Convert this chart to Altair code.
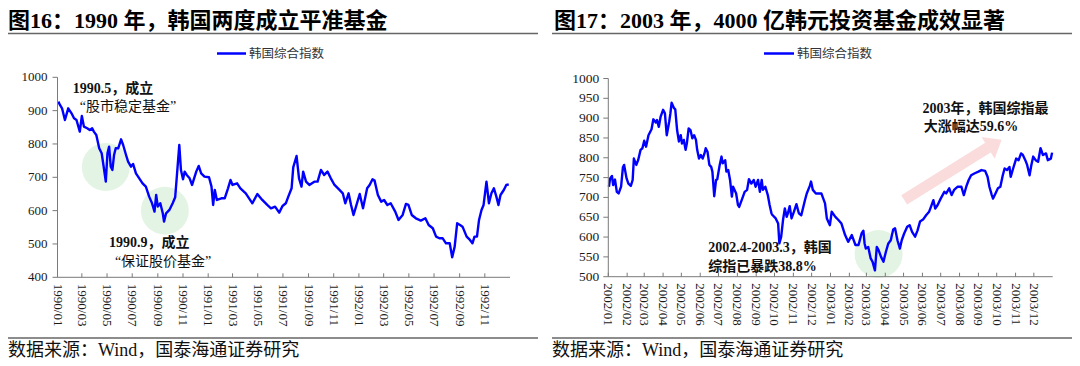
import altair as alt
import pandas as pd

FONT = "Liberation Serif, Noto Sans CJK SC"
BLUE = "#0000FF"
AXC = "#7a7a7a"
PINK = "#FBDCDC"
GREEN = "#E4F4E4"

# ---------------- data: left panel (1990-1992) ----------------
LEFT_DATES = [
    "1990-01-03", "1990-01-07", "1990-01-12", "1990-01-19", "1990-01-27", "1990-02-04", "1990-02-10", "1990-02-16",
    "1990-02-24", "1990-03-01", "1990-03-06", "1990-03-14", "1990-03-20", "1990-03-26", "1990-03-30", "1990-04-05",
    "1990-04-12", "1990-04-18", "1990-04-24", "1990-04-28", "1990-05-02", "1990-05-06", "1990-05-10", "1990-05-14",
    "1990-05-18", "1990-05-22", "1990-05-28", "1990-06-04", "1990-06-09", "1990-06-16", "1990-06-21", "1990-06-28",
    "1990-07-03", "1990-07-10", "1990-07-18", "1990-07-26", "1990-08-03", "1990-08-11", "1990-08-18", "1990-08-24",
    "1990-08-28", "1990-09-01", "1990-09-07", "1990-09-13", "1990-09-16", "1990-09-21", "1990-09-29", "1990-10-07",
    "1990-10-13", "1990-10-17", "1990-10-23", "1990-10-27", "1990-11-01", "1990-11-05", "1990-11-10", "1990-11-17",
    "1990-11-23", "1990-12-03", "1990-12-09", "1990-12-15", "1990-12-23", "1991-01-03", "1991-01-09", "1991-01-13",
    "1991-01-17", "1991-01-22", "1991-02-02", "1991-02-10", "1991-02-18", "1991-02-24", "1991-03-01", "1991-03-12",
    "1991-03-20", "1991-04-02", "1991-04-10", "1991-04-18", "1991-04-30", "1991-05-12", "1991-05-24", "1991-06-02",
    "1991-06-12", "1991-06-22", "1991-06-30", "1991-07-08", "1991-07-14", "1991-07-22", "1991-07-26", "1991-08-03",
    "1991-08-09", "1991-08-15", "1991-08-19", "1991-08-26", "1991-09-03", "1991-09-15", "1991-09-23", "1991-10-01",
    "1991-10-09", "1991-10-17", "1991-10-25", "1991-11-03", "1991-11-15", "1991-11-23", "1991-11-29", "1991-12-07",
    "1991-12-13", "1991-12-19", "1991-12-25", "1992-01-03", "1992-01-11", "1992-01-21", "1992-01-27", "1992-02-03",
    "1992-02-08", "1992-02-16", "1992-02-24", "1992-03-02", "1992-03-10", "1992-03-18", "1992-03-29", "1992-04-06",
    "1992-04-16", "1992-04-24", "1992-04-30", "1992-05-08", "1992-05-18", "1992-05-30", "1992-06-10", "1992-06-18",
    "1992-06-28", "1992-07-06", "1992-07-14", "1992-07-22", "1992-07-30", "1992-08-08", "1992-08-14", "1992-08-20",
    "1992-08-26", "1992-09-02", "1992-09-08", "1992-09-18", "1992-09-26", "1992-10-02", "1992-10-07", "1992-10-13",
    "1992-10-18", "1992-10-24", "1992-10-29", "1992-11-05", "1992-11-11", "1992-11-17", "1992-11-23", "1992-11-29",
    "1992-12-04", "1992-12-09", "1992-12-17", "1992-12-23", "1992-12-29",
]
LEFT_VALUES = [
    927, 917, 907, 872, 907, 892, 877, 872,
    837, 884, 852, 847, 842, 847, 837, 827,
    787, 772, 722, 687, 772, 792, 732, 722,
    767, 787, 787, 814, 797, 767, 747, 732,
    740, 712, 697, 682, 672, 642, 622, 597,
    647, 612, 622, 592, 567, 592, 602, 622,
    640, 702, 797, 722, 694, 717, 707, 697,
    677, 717, 734, 712, 702, 700, 672, 617,
    662, 632, 637, 637, 667, 692, 677, 682,
    667, 652, 637, 622, 650, 632, 617, 607,
    612, 594, 614, 622, 642, 667, 730, 764,
    697, 672, 717, 687, 677, 687, 687, 722,
    707, 717, 697, 677, 662, 652, 622, 652,
    617, 587, 612, 650, 607, 667, 677, 694,
    690, 647, 627, 632, 617, 622, 597, 572,
    587, 620, 617, 587, 577, 570, 577, 557,
    547, 522, 517, 517, 502, 502, 460, 492,
    562, 557, 552, 522, 512, 502, 522, 522,
    572, 602, 617, 687, 622, 652, 667, 642,
    617, 647, 662, 677, 679,
]

# ---------------- data: right panel (2002-2003) ----------------
RIGHT_DATES = [
    "2002-01-02", "2002-01-04", "2002-01-07", "2002-01-09", "2002-01-12", "2002-01-15", "2002-01-18", "2002-01-22",
    "2002-01-25", "2002-01-27", "2002-01-31", "2002-02-03", "2002-02-07", "2002-02-10", "2002-02-12", "2002-02-16",
    "2002-02-19", "2002-02-23", "2002-02-26", "2002-03-01", "2002-03-04", "2002-03-08", "2002-03-13", "2002-03-16",
    "2002-03-20", "2002-03-22", "2002-03-25", "2002-03-28", "2002-04-01", "2002-04-04", "2002-04-07", "2002-04-11",
    "2002-04-13", "2002-04-15", "2002-04-19", "2002-04-21", "2002-04-24", "2002-04-27", "2002-04-30", "2002-05-02",
    "2002-05-05", "2002-05-08", "2002-05-10", "2002-05-13", "2002-05-16", "2002-05-19", "2002-05-22", "2002-05-25",
    "2002-05-27", "2002-05-30", "2002-06-02", "2002-06-05", "2002-06-08", "2002-06-10", "2002-06-13", "2002-06-16",
    "2002-06-19", "2002-06-21", "2002-06-24", "2002-06-27", "2002-06-29", "2002-07-03", "2002-07-06", "2002-07-08",
    "2002-07-12", "2002-07-14", "2002-07-17", "2002-07-20", "2002-07-23", "2002-07-25", "2002-07-30", "2002-08-02",
    "2002-08-04", "2002-08-09", "2002-08-13", "2002-08-17", "2002-08-20", "2002-08-24", "2002-08-28", "2002-08-31",
    "2002-09-04", "2002-09-07", "2002-09-10", "2002-09-12", "2002-09-16", "2002-09-20", "2002-09-23", "2002-09-26",
    "2002-09-28", "2002-10-03", "2002-10-07", "2002-10-09", "2002-10-12", "2002-10-15", "2002-10-18", "2002-10-21",
    "2002-10-23", "2002-10-26", "2002-10-29", "2002-11-02", "2002-11-06", "2002-11-10", "2002-11-14", "2002-11-20",
    "2002-11-23", "2002-11-28", "2002-11-30", "2002-12-03", "2002-12-08", "2002-12-13", "2002-12-17", "2002-12-23",
    "2002-12-26", "2002-12-31", "2003-01-03", "2003-01-09", "2003-01-14", "2003-01-19", "2003-01-25", "2003-01-30",
    "2003-02-05", "2003-02-11", "2003-02-16", "2003-02-21", "2003-02-24", "2003-02-26", "2003-02-28", "2003-03-04",
    "2003-03-08", "2003-03-11", "2003-03-15", "2003-03-18", "2003-03-21", "2003-03-25", "2003-03-29", "2003-04-02",
    "2003-04-06", "2003-04-10", "2003-04-14", "2003-04-17", "2003-04-21", "2003-04-25", "2003-04-28", "2003-05-02",
    "2003-05-07", "2003-05-11", "2003-05-15", "2003-05-20", "2003-05-24", "2003-05-28", "2003-06-02", "2003-06-07",
    "2003-06-12", "2003-06-15", "2003-06-19", "2003-06-22", "2003-06-26", "2003-07-01", "2003-07-07", "2003-07-10",
    "2003-07-15", "2003-07-19", "2003-07-23", "2003-07-29", "2003-08-04", "2003-08-08", "2003-08-12", "2003-08-16",
    "2003-08-20", "2003-08-26", "2003-09-01", "2003-09-06", "2003-09-12", "2003-09-16", "2003-09-19", "2003-09-23",
    "2003-09-25", "2003-09-29", "2003-10-03", "2003-10-07", "2003-10-11", "2003-10-14", "2003-10-18", "2003-10-22",
    "2003-10-24", "2003-10-28", "2003-11-02", "2003-11-06", "2003-11-10", "2003-11-13", "2003-11-17", "2003-11-20",
    "2003-11-24", "2003-11-27", "2003-11-30", "2003-12-04", "2003-12-08", "2003-12-12", "2003-12-16", "2003-12-21",
    "2003-12-24", "2003-12-29", "2003-12-31",
]
RIGHT_VALUES = [
    727, 748, 754, 731, 745, 714, 710, 727,
    776, 782, 748, 735, 729, 744, 798, 782,
    794, 820, 824, 843, 828, 857, 872, 897,
    889, 895, 878, 904, 921, 912, 857, 891,
    912, 939, 925, 922, 870, 841, 857, 836,
    845, 820, 836, 874, 870, 849, 857, 845,
    820, 798, 807, 798, 811, 824, 815, 782,
    777, 765, 703, 744, 746, 782, 803, 786,
    794, 765, 769, 744, 702, 727, 710, 681,
    676, 697, 714, 719, 746, 735, 744, 727,
    744, 714, 744, 719, 727, 706, 681, 660,
    655, 647, 634, 584, 601, 643, 672, 651,
    660, 678, 647, 664, 683, 660, 655, 693,
    710, 729, 740, 719, 710, 710, 710, 685,
    647, 630, 664, 651, 643, 634, 605, 588,
    605, 580, 580, 609, 616, 584, 571, 575,
    546, 538, 516, 575, 567, 550, 538, 563,
    584, 592, 619, 622, 592, 571, 592, 609,
    626, 630, 613, 601, 617, 639, 644, 655,
    664, 676, 693, 672, 681, 697, 714, 710,
    723, 706, 719, 727, 727, 706, 727, 744,
    756, 761, 765, 769, 767, 752, 727, 706,
    697, 710, 723, 727, 756, 773, 769, 777,
    752, 773, 798, 794, 811, 807, 794, 782,
    756, 782, 803, 794, 790, 824, 807, 811,
    794, 798, 813,
]

# ---------------- tick positions and labels ----------------
LEFT_TICKS = [
    "1990-01-01", "1990-03-01", "1990-05-01", "1990-07-01", "1990-09-01", "1990-11-01",
    "1991-01-01", "1991-03-01", "1991-05-01", "1991-07-01", "1991-09-01", "1991-11-01",
    "1992-01-01", "1992-03-01", "1992-05-01", "1992-07-01", "1992-09-01", "1992-11-01",
]
LEFT_TICK_LABELS = [
    "1990/01", "1990/03", "1990/05", "1990/07", "1990/09", "1990/11",
    "1991/01", "1991/03", "1991/05", "1991/07", "1991/09", "1991/11",
    "1992/01", "1992/03", "1992/05", "1992/07", "1992/09", "1992/11",
]
RIGHT_TICKS = [
    "2002-01-01", "2002-02-01", "2002-03-01", "2002-04-01", "2002-05-01", "2002-06-01",
    "2002-07-01", "2002-08-01", "2002-09-01", "2002-10-01", "2002-11-01", "2002-12-01",
    "2003-01-01", "2003-02-01", "2003-03-01", "2003-04-01", "2003-05-01", "2003-06-01",
    "2003-07-01", "2003-08-01", "2003-09-01", "2003-10-01", "2003-11-01", "2003-12-01",
]
RIGHT_TICK_LABELS = [
    "2002/01", "2002/02", "2002/03", "2002/04", "2002/05", "2002/06",
    "2002/07", "2002/08", "2002/09", "2002/10", "2002/11", "2002/12",
    "2003/01", "2003/02", "2003/03", "2003/04", "2003/05", "2003/06",
    "2003/07", "2003/08", "2003/09", "2003/10", "2003/11", "2003/12",
]
LEFT_Y_TICKS = [400, 500, 600, 700, 800, 900, 1000]
RIGHT_Y_TICKS = [500, 550, 600, 650, 700, 750, 800, 850, 900, 950, 1000]

# ---------------- annotations ----------------
LEFT_CIRCLE_DATES = ["1990-04-28", "1990-09-18"]
LEFT_CIRCLE_VALUES = [731, 600]
RIGHT_CIRCLE_DATES = ["2003-03-21"]
RIGHT_CIRCLE_VALUES = [557]
ARROW_DATES = ["2003-05-02", "2003-09-17"]
ARROW_VALUES = [694, 826]
ARROW_HEAD_DATES = ["2003-09-28"]
ARROW_HEAD_VALUES = [835]

LEFT_NOTE_DATES = ["1990-02-07", "1990-02-24", "1990-05-06", "1990-05-20"]
LEFT_NOTE_VALUES = [964, 912, 502, 447]
LEFT_NOTE_TEXTS = ["1990.5，成立", "“股市稳定基金”", "1990.9，成立", "“保证股价基金”"]
RIGHT_NOTE_DATES = ["2002-06-14", "2002-06-14", "2003-06-01", "2003-06-03"]
RIGHT_NOTE_VALUES = [572, 525, 922, 878]
RIGHT_NOTE_TEXTS = ["2002.4-2003.3，韩国", "综指已暴跌38.8%", "2003年，韩国综指最", "大涨幅达59.6%"]

TITLES = ["图16：1990 年，韩国两度成立平准基金", "图17：2003 年，4000 亿韩元投资基金成效显著"]
LEGEND = "韩国综合指数"
SOURCE = "数据来源：Wind，国泰海通证券研究"

W, H = 1064, 350


def dt(s):
    y, m, d = (int(p) for p in s.split("-"))
    return alt.DateTime(year=y, month=m, date=d, utc=True)


# plot-area geometry (pixels inside the view)
L_X0, L_X1, L_Y0, L_Y1 = 49.5, 502.0, 269.3, 69.3
R_X0, R_X1, R_Y0, R_Y1 = 600.3, 1044.7, 268.7, 70.5

LX = alt.Scale(type="utc", domain=[dt("1990-01-01"), dt("1993-01-01")], range=[L_X0, L_X1])
LY = alt.Scale(domain=[400, 1000], range=[L_Y0, L_Y1], nice=False, zero=False)
RX = alt.Scale(type="utc", domain=[dt("2002-01-01"), dt("2004-01-01")], range=[R_X0, R_X1])
RY = alt.Scale(domain=[500, 1000], range=[R_Y0, R_Y1], nice=False, zero=False)


def rule(x1, x2, y1, y2, color, width):
    return alt.Chart(pd.DataFrame({"a": [0]})).mark_rule(color=color, strokeWidth=width).encode(
        x=alt.value(x1), x2=alt.value(x2), y=alt.value(y1), y2=alt.value(y2))


def x_axis_layers(ticks, labels, xs, x0, x1, y0):
    df = pd.DataFrame({"t": ticks, "lab": labels})
    dom = rule(x0, x1, y0, y0, AXC, 1)
    tk = alt.Chart(df).mark_rule(color=AXC, strokeWidth=1).encode(
        x=alt.X("t:T", scale=xs, axis=None), y=alt.value(y0 - 4), y2=alt.value(y0))
    lab = alt.Chart(df).mark_text(angle=90, align="left", baseline="middle", font="Liberation Serif",
                                  fontSize=13, color="#1a1a1a").encode(
        x=alt.X("t:T", scale=xs, axis=None), y=alt.value(y0 + 6.5), text="lab:N")
    return [dom, tk, lab]


def y_axis_layers(values, ys, x0, y0, y1, size, pad):
    df = pd.DataFrame({"v": values})
    dom = rule(x0, x0, y1, y0, AXC, 1)
    tk = alt.Chart(df).mark_rule(color=AXC, strokeWidth=1).encode(
        y=alt.Y("v:Q", scale=ys, axis=None), x=alt.value(x0 - 5), x2=alt.value(x0))
    lab = alt.Chart(df).mark_text(align="right", baseline="middle", font="Liberation Serif",
                                  fontSize=size, color="#1a1a1a").encode(
        y=alt.Y("v:Q", scale=ys, axis=None), x=alt.value(x0 - 5 - pad), text="v:Q")
    return [dom, tk, lab]


def circles(dates, values, xs, ys):
    return alt.Chart(pd.DataFrame({"d": dates, "v": values})).mark_circle(
        color=GREEN, opacity=1, size=2304).encode(
        x=alt.X("d:T", scale=xs, axis=None), y=alt.Y("v:Q", scale=ys, axis=None))


def notes(dates, values, texts, bold_flags, xs, ys):
    layers = []
    for d, v, t, b in zip(dates, values, texts, bold_flags):
        layers.append(alt.Chart(pd.DataFrame({"d": [d], "v": [v], "t": [t]})).mark_text(
            align="left", baseline="middle", font=FONT, fontSize=14,
            fontWeight="bold" if b else "normal", color="#111111").encode(
            x=alt.X("d:T", scale=xs, axis=None), y=alt.Y("v:Q", scale=ys, axis=None), text="t:N"))
    return layers


def label(text, x, y, size, weight="normal", color="#111111", baseline="alphabetic"):
    return alt.Chart(pd.DataFrame({"t": [text]})).mark_text(
        align="left", baseline=baseline, font=FONT, fontSize=size, fontWeight=weight, color=color).encode(
        x=alt.value(x), y=alt.value(y), text="t:N")


left_line = alt.Chart(pd.DataFrame({"date": LEFT_DATES, "value": LEFT_VALUES})).mark_line(
    color=BLUE, strokeWidth=2.4, strokeJoin="round").encode(
    x=alt.X("date:T", scale=LX, axis=None),
    y=alt.Y("value:Q", scale=LY, axis=None))

left = alt.layer(
    circles(LEFT_CIRCLE_DATES, LEFT_CIRCLE_VALUES, LX, LY),
    left_line,
    *x_axis_layers(LEFT_TICKS, LEFT_TICK_LABELS, LX, L_X0, L_X1, L_Y0),
    *y_axis_layers(LEFT_Y_TICKS, LY, L_X0, L_Y0, L_Y1, 13, 5),
    *notes(LEFT_NOTE_DATES, LEFT_NOTE_VALUES, LEFT_NOTE_TEXTS, [True, False, True, False], LX, LY),
)

right_line = alt.Chart(pd.DataFrame({"date": RIGHT_DATES, "value": RIGHT_VALUES})).mark_line(
    color=BLUE, strokeWidth=2.4, strokeJoin="round").encode(
    x=alt.X("date:T", scale=RX, axis=None),
    y=alt.Y("value:Q", scale=RY, axis=None))

arrow_shaft = alt.Chart(pd.DataFrame({"d": ARROW_DATES, "v": ARROW_VALUES})).mark_line(
    color=PINK, strokeWidth=11, strokeCap="butt").encode(
    x=alt.X("d:T", scale=RX, axis=None), y=alt.Y("v:Q", scale=RY, axis=None))
arrow_head = alt.Chart(pd.DataFrame({"d": ARROW_HEAD_DATES, "v": ARROW_HEAD_VALUES})).mark_point(
    shape="M0,-0.62L1,0.62L-1,0.62Z", filled=True, size=645, angle=59, color=PINK, opacity=1,
    strokeWidth=0).encode(
    x=alt.X("d:T", scale=RX, axis=None), y=alt.Y("v:Q", scale=RY, axis=None))

right = alt.layer(
    circles(RIGHT_CIRCLE_DATES, RIGHT_CIRCLE_VALUES, RX, RY),
    arrow_shaft,
    arrow_head,
    right_line,
    *x_axis_layers(RIGHT_TICKS, RIGHT_TICK_LABELS, RX, R_X0, R_X1, R_Y0),
    *y_axis_layers(RIGHT_Y_TICKS, RY, R_X0, R_Y0, R_Y1, 13.5, 4),
    *notes(RIGHT_NOTE_DATES, RIGHT_NOTE_VALUES, RIGHT_NOTE_TEXTS, [True, True, True, True], RX, RY),
)

deco = [
    label(TITLES[0], 0, 20, 22, "bold", "#000000"),
    label(TITLES[1], 546, 20, 22, "bold", "#000000"),
    rule(0, 530, 25.5, 25.5, "#666666", 1.5),
    rule(544, 1064, 25.5, 25.5, "#666666", 1.5),
    rule(209, 238, 45.5, 45.5, BLUE, 2.5),
    label(LEGEND, 241, 45.5, 12.5, "normal", "#333333", "middle"),
    rule(756, 786, 45.5, 45.5, BLUE, 2.5),
    label(LEGEND, 789, 45.5, 12.5, "normal", "#333333", "middle"),
    rule(0, 530, 330, 330, "#666666", 1.5),
    rule(544, 1064, 330, 330, "#666666", 1.5),
    label(SOURCE, 0, 347.5, 18, "normal", "#111111"),
    label(SOURCE, 544, 347.5, 18, "normal", "#111111"),
]

chart = alt.layer(left, right, *deco).resolve_scale(x="independent", y="independent").properties(
    width=W, height=H, autosize=alt.AutoSizeParams(type="none"), padding=0, background="white"
).configure_view(stroke=None)

chart.save("out.html", embed_options={"renderer": "svg", "actions": False})
